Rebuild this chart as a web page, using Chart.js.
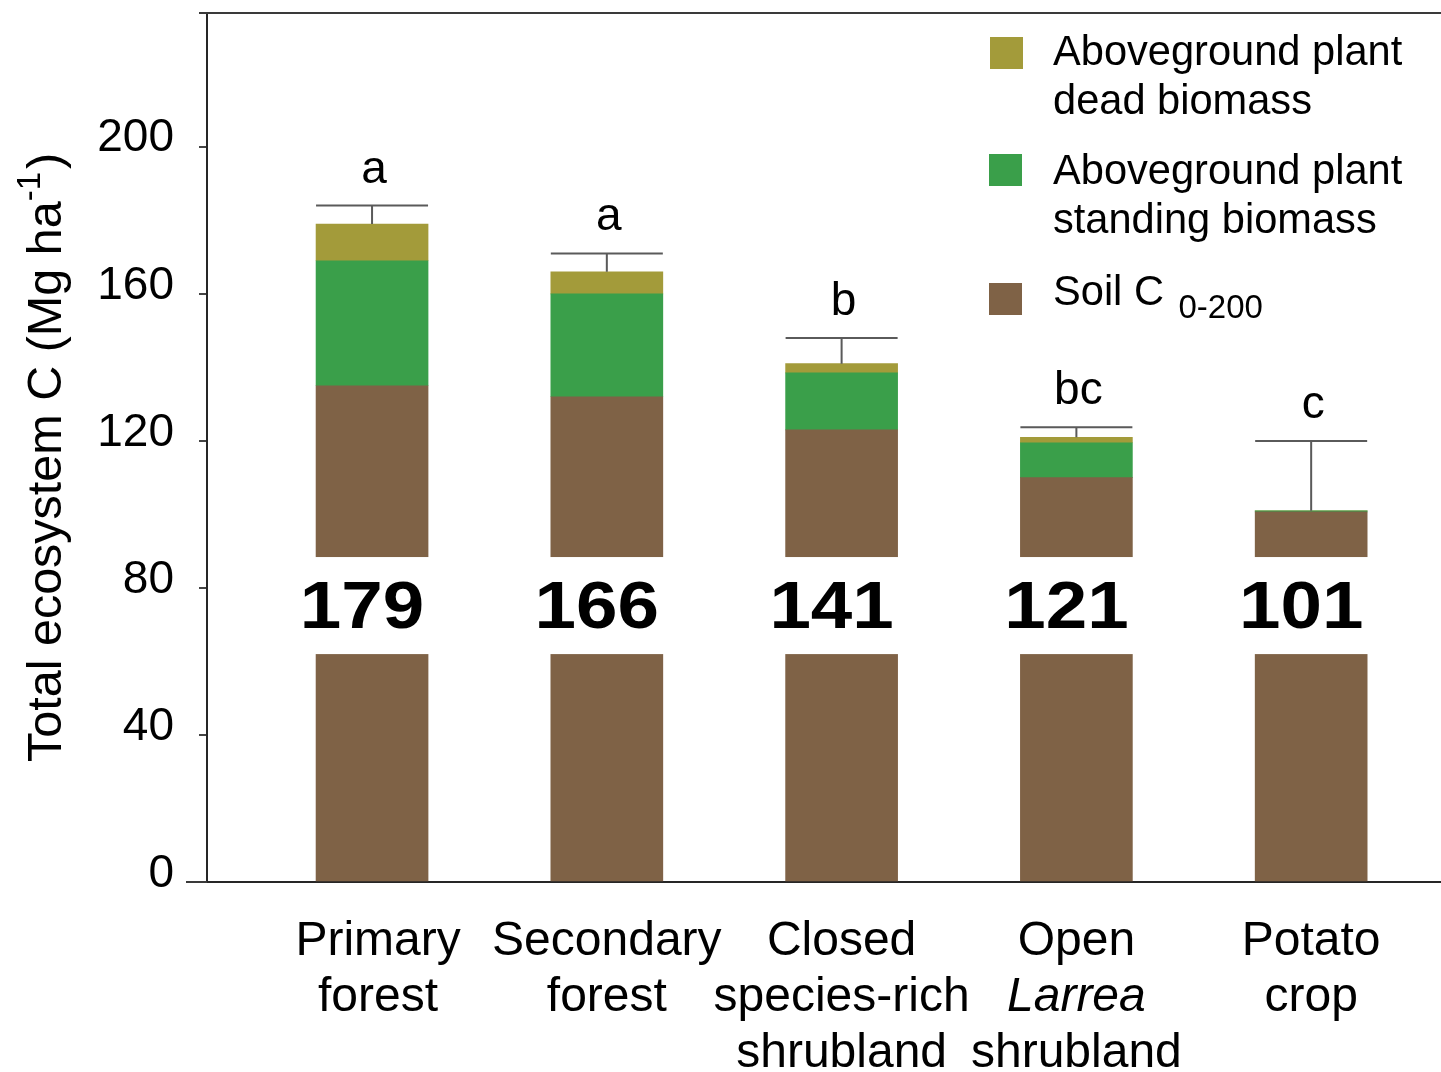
<!DOCTYPE html>
<html>
<head>
<meta charset="utf-8">
<title>Total ecosystem C by land use</title>
<script src="https://cdn.jsdelivr.net/npm/chart.js@4.4.1/dist/chart.umd.min.js"></script>
<style>
  html, body { margin: 0; padding: 0; background: #ffffff; }
  canvas { display: block; }
</style>
</head>
<body>
<canvas id="chart" width="1441" height="1072"></canvas>
<script>
// ---- data -------------------------------------------------------------
const categories = [
  ['Primary', 'forest'],
  ['Secondary', 'forest'],
  ['Closed', 'species-rich', 'shrubland'],
  ['Open', 'Larrea', 'shrubland'],
  ['Potato', 'crop']
];
const italicWords = ['Larrea'];

const soilC           = [135, 132, 123, 110, 100.7];   // Mg C ha-1, 0-200 cm
const standingBiomass = [34, 28, 15.5, 9.5, 0.3];
const deadBiomass     = [10, 6, 2.5, 1.5, 0];
const totals          = [179, 166, 141, 121, 101];
const standardErrors  = [5, 5, 7, 2.7, 19];
const groupLetters    = ['a', 'a', 'b', 'bc', 'c'];
const yTicks          = [0, 40, 80, 120, 160, 200];

const seriesNames = {
  dead: ['Aboveground plant', 'dead biomass'],
  standing: ['Aboveground plant', 'standing biomass'],
  soil: ['Soil C', '0-200']
};

// ---- styling ----------------------------------------------------------
const FONT = "'Liberation Sans', Arial, Helvetica, sans-serif";
const COLORS = { dead: '#A39B3A', standing: '#3A9F4A', soil: '#7F6246' };
const AXIS_COLOR = '#262626';
const BREAK_LOW = 62, BREAK_HIGH = 88.4;   // white band holding the totals

const toPoints = arr => arr.map((v, i) => ({ x: i, y: v }));

const overlay = {
  id: 'overlay',
  afterDatasetsDraw(chart) {
    const { ctx, chartArea: a, scales: { x, y } } = chart;
    const barMeta = chart.getDatasetMeta(0);
    ctx.save();

    // white band across the bars
    const bandTop = y.getPixelForValue(BREAK_HIGH);
    const bandBot = y.getPixelForValue(BREAK_LOW);
    ctx.fillStyle = '#ffffff';
    ctx.fillRect(a.left + 1.5, bandTop, a.right - a.left, bandBot - bandTop);

    // totals inside the band
    const mid = (bandTop + bandBot) / 2;
    ctx.fillStyle = '#000000';
    ctx.font = `bold 66px ${FONT}`;
    ctx.textAlign = 'center';
    ctx.textBaseline = 'alphabetic';
    totals.forEach((t, i) => {
      const px = x.getPixelForValue(i) - 10;
      ctx.save();
      ctx.translate(px, mid + 22);
      ctx.scale(1.13, 1);
      ctx.fillText(String(t), 0, 0);
      ctx.restore();
    });

    // error bars (upper only) and letters
    ctx.strokeStyle = '#5a5a5a';
    ctx.lineWidth = 2;
    ctx.font = `46px ${FONT}`;
    totals.forEach((t, i) => {
      const px = x.getPixelForValue(i);
      const half = barMeta.data[i].width / 2;
      const yBase = y.getPixelForValue(t);
      const yTop = y.getPixelForValue(t + standardErrors[i]);
      ctx.beginPath();
      ctx.moveTo(px, yBase);
      ctx.lineTo(px, yTop);
      ctx.moveTo(px - half, yTop);
      ctx.lineTo(px + half, yTop);
      ctx.stroke();
      ctx.fillStyle = '#000000';
      ctx.fillText(groupLetters[i], px + 2, yTop - 23);
    });
    ctx.restore();
  },
  afterDraw(chart) {
    const { ctx, chartArea: a, scales: { x } } = chart;
    ctx.save();

    // frame: top line and left extension of the baseline
    ctx.strokeStyle = '#3a3a3a';
    ctx.lineWidth = 2;
    ctx.beginPath();
    ctx.moveTo(199, a.top);
    ctx.lineTo(a.right, a.top);
    ctx.moveTo(186, a.bottom);
    ctx.lineTo(a.left, a.bottom);
    ctx.stroke();

    // category labels, several lines, one word in italics
    ctx.fillStyle = '#000000';
    ctx.textAlign = 'center';
    ctx.textBaseline = 'alphabetic';
    categories.forEach((lines, i) => {
      const px = x.getPixelForValue(i) + (i === 0 ? 6 : 0);
      lines.forEach((txt, k) => {
        const italic = italicWords.includes(txt);
        ctx.font = `${italic ? 'italic ' : ''}48px ${FONT}`;
        ctx.fillText(txt, px, a.bottom + 73 + k * 56);
      });
    });

    // y axis title with superscript
    ctx.save();
    ctx.translate(61, 762);
    ctx.rotate(-Math.PI / 2);
    ctx.textAlign = 'left';
    let cx = 0;
    const main1 = 'Total ecosystem C (Mg ha';
    ctx.font = `48.5px ${FONT}`;
    ctx.fillText(main1, cx, 0);
    cx += ctx.measureText(main1).width;
    ctx.font = `33px ${FONT}`;
    ctx.fillText('-1', cx, -21);
    cx += ctx.measureText('-1').width + 3;
    ctx.font = `48.5px ${FONT}`;
    ctx.fillText(')', cx, 0);
    ctx.restore();

    // legend
    const entries = [
      { color: COLORS.dead, box: [990, 37], lines: seriesNames.dead, base: 65 },
      { color: COLORS.standing, box: [989, 154], lines: seriesNames.standing, base: 184 },
    ];
    ctx.textAlign = 'left';
    entries.forEach(e => {
      ctx.fillStyle = e.color;
      ctx.fillRect(e.box[0], e.box[1], 33, 32);
      ctx.fillStyle = '#000000';
      ctx.font = `41.6px ${FONT}`;
      e.lines.forEach((t, k) => ctx.fillText(t, 1053, e.base + k * 49));
    });
    ctx.fillStyle = COLORS.soil;
    ctx.fillRect(989, 283, 33, 32);
    ctx.fillStyle = '#000000';
    ctx.font = `41.6px ${FONT}`;
    ctx.fillText(seriesNames.soil[0], 1053, 305);
    const w = ctx.measureText(seriesNames.soil[0] + ' ').width;
    ctx.font = `33px ${FONT}`;
    ctx.fillText(seriesNames.soil[1], 1053 + w + 3, 318);

    ctx.restore();
  }
};

new Chart(document.getElementById('chart'), {
  type: 'bar',
  data: {
    datasets: [
      { label: seriesNames.soil.join(' '), data: toPoints(soilC), backgroundColor: COLORS.soil, stack: 'total' },
      { label: seriesNames.standing.join(' '), data: toPoints(standingBiomass), backgroundColor: COLORS.standing, stack: 'total' },
      { label: seriesNames.dead.join(' '), data: toPoints(deadBiomass), backgroundColor: COLORS.dead, stack: 'total' }
    ]
  },
  options: {
    responsive: false,
    devicePixelRatio: 1,
    animation: false,
    layout: { padding: { top: 13, right: 0, left: 0, bottom: 0 } },
    datasets: { bar: { barThickness: 112, borderWidth: 0 } },
    plugins: { legend: { display: false }, tooltip: { enabled: false } },
    scales: {
      x: {
        type: 'linear',
        min: -0.703,
        max: 4.553,
        offset: false,
        stacked: true,
        grid: { display: false, offset: false },
        border: { display: true, color: AXIS_COLOR, width: 2 },
        ticks: { display: false },
        afterBuildTicks: s => { s.ticks = categories.map((_, i) => ({ value: i })); },
        afterFit: s => { s.height = 190; s.paddingLeft = 0; s.paddingRight = 0; }
      },
      y: {
        min: 0,
        max: 236.4,
        stacked: true,
        afterBuildTicks: s => { s.ticks = yTicks.map(v => ({ value: v })); },
        afterFit: s => { s.width = 207; s.paddingTop = 0; s.paddingBottom = 0; },
        grid: { drawOnChartArea: false, drawTicks: true, tickLength: 8, color: '#444', lineWidth: 2 },
        border: { display: true, color: AXIS_COLOR, width: 2 },
        ticks: { font: { family: FONT, size: 46 }, color: '#000', padding: 25, labelOffset: -8 }
      }
    }
  },
  plugins: [overlay]
});
</script>
</body>
</html>
